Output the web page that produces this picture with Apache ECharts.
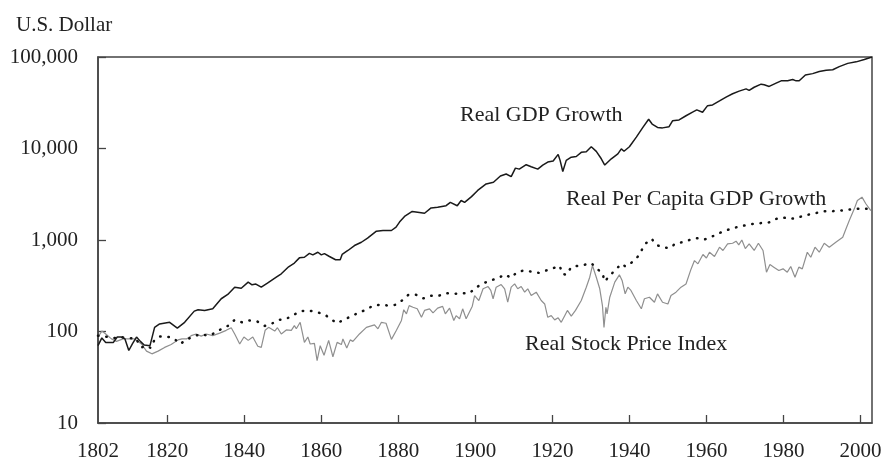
<!DOCTYPE html>
<html>
<head>
<meta charset="utf-8">
<script src="https://cdn.jsdelivr.net/npm/echarts@6/dist/echarts.min.js"></script>
<style>
  html, body { margin: 0; padding: 0; background: #fff; }
  #chart { width: 883px; height: 461px; }
</style>
</head>
<body>
<div id="chart"></div>
<script>
// real GDP (black solid line)
var gdpYears = [1802, 1803, 1804, 1806, 1807, 1808, 1809, 1810, 1811, 1812, 1813, 1814, 1815.5, 1816.7, 1818,
  1820.6, 1822.6, 1824.5, 1827, 1828, 1829.7, 1831.8, 1834, 1835.7, 1837.5, 1839.2, 1841, 1842, 1843, 1844.4,
  1846, 1848.3, 1849.6, 1851.5, 1853, 1854.3, 1855.6, 1856.9, 1857.8, 1859.1, 1860, 1860.8, 1862.1, 1863.7,
  1864.9, 1865.4, 1866.9, 1868.6, 1870.4, 1872, 1874.3, 1876, 1878.2, 1879.4, 1880.3, 1881.6, 1883.6, 1885,
  1886.8, 1888.5, 1890.2, 1892.4, 1893.5, 1895.3, 1896.3, 1897.2, 1899, 1900.6, 1902.8, 1904.7, 1906.5, 1908,
  1909.3, 1910.4, 1911.4, 1913.2, 1914.5, 1916.2, 1917.5, 1918.8, 1920.2, 1921.5, 1922, 1922.7, 1923.6, 1924.9,
  1926.2, 1927.5, 1928.8, 1930.1, 1931.4, 1932.7, 1933.6, 1935.3, 1937, 1937.9, 1938.6, 1940, 1941.8, 1943.5,
  1945, 1945.9, 1947.3, 1948.6, 1950.3, 1951.2, 1952.9, 1954.7, 1956.4, 1957.5, 1959, 1960.3, 1961.6, 1963.4,
  1965.1, 1966.8, 1968.5, 1970.3, 1971.1, 1972.4, 1974.2, 1975, 1976.3, 1978.1, 1979.4, 1981.1, 1982.4, 1983.3,
  1984.1, 1985.7, 1987.6, 1989.3, 1991.1, 1992.8, 1994.5, 1996.7, 1998.9, 2001, 2003];
var gdpValues = [70, 85, 76, 76, 87, 87, 83, 62, 74, 87, 78, 71, 70, 111, 121,
  126, 109, 126, 167, 173, 170, 177, 228, 254, 305, 297, 346, 324, 330, 305,
  337, 392, 427, 510, 560, 638, 648, 715, 688, 735, 688, 710, 660, 608,
  608, 695, 768, 870, 945, 1050, 1250, 1270, 1270, 1380, 1570, 1810, 2050, 2010,
  1960, 2240, 2280, 2370, 2580, 2370, 2700, 2580, 2980, 3480, 4100, 4280, 5000, 5260,
  4930, 6100, 5950, 6650, 6320, 5950, 6580, 7110, 7300, 8620, 7420, 5600, 7420, 8040,
  8170, 9080, 9220, 10450, 9300, 7720, 6600, 7720, 8730, 9900, 9330, 10450, 13300, 17000,
  20900, 18500, 17000, 16800, 17300, 20100, 20500, 22800, 25000, 26400, 24900, 29400, 29900, 33100,
  36500, 39700, 42400, 44800, 43100, 46700, 50500, 49700, 47700, 51800, 54900, 54900, 56700, 54900,
  54900, 63700, 65800, 69300, 71800, 72500, 78400, 85200, 88500, 93700, 100000];

// real per capita GDP (dotted line)
var pcYears = [1802, 1804, 1806.3, 1808, 1810, 1811.7, 1813.3, 1814.6, 1815.7, 1816.6, 1817.9, 1819.8, 1821.6,
  1823.3, 1825, 1826.8, 1828.7, 1830.8, 1832.7, 1834.4, 1835.9, 1837.5, 1839.4, 1841.2, 1843.3, 1845.3, 1847,
  1848.9, 1850.7, 1852.8, 1854.6, 1856.7, 1858.7, 1860.7, 1862.4, 1864, 1865.8, 1867.8, 1869.7, 1871.7, 1873.4,
  1875.3, 1877.5, 1879.4, 1881.2, 1882.6, 1884.6, 1886.5, 1888.5, 1890.5, 1892.4, 1894.4, 1896.5, 1898.5, 1900,
  1901.8, 1903.7, 1905.8, 1907.6, 1909.3, 1910.8, 1912.6, 1914.5, 1916.5, 1918.4, 1920.2, 1921.9, 1922.6, 1923.6,
  1924.9, 1926.6, 1928.3, 1930.1, 1931.4, 1933, 1933.6, 1934.9, 1936.4, 1937.9, 1939, 1940.7, 1942.2, 1943,
  1944.3, 1945.8, 1946.9, 1948.6, 1950.4, 1952.1, 1953.8, 1955.6, 1957.3, 1959.4, 1961.1, 1963.1, 1965.1, 1966.8,
  1969, 1970.7, 1972.5, 1974.2, 1976.3, 1978.1, 1979.8, 1981.5, 1983.3, 1985.4, 1987.2, 1988.9, 1990.6, 1992.4,
  1994.4, 1996.3, 1998.4, 2000.3, 2002.3];
var pcValues = [90, 88, 85, 87, 84, 85, 67, 70, 66, 80, 88, 88, 85,
  73, 81, 89, 93, 90, 98, 109, 116, 134, 126, 132, 129, 115, 121,
  134, 136, 152, 167, 170, 163, 155, 138, 123, 134, 147, 161, 173, 192,
  196, 192, 196, 222, 252, 252, 230, 246, 246, 262, 258, 262, 262, 300,
  331, 361, 380, 420, 386, 445, 464, 452, 437, 464, 492, 522, 427, 416,
  505, 522, 536, 558, 492, 433, 352, 409, 472, 549, 513, 572, 659, 754,
  922, 1030, 886, 835, 815, 922, 946, 1000, 1050, 1010, 1070, 1180, 1270, 1350,
  1410, 1470, 1510, 1530, 1560, 1700, 1770, 1700, 1730, 1850, 1920, 1990, 2060, 2060,
  2090, 2120, 2190, 2190, 2190];

// real stock price index (grey line)
var stockYears = [1802, 1803, 1804, 1805.5, 1806.8, 1808.5, 1810.2, 1811.5, 1813.3, 1814.6, 1816, 1817.6, 1819.3,
  1821, 1822.8, 1823.8, 1825, 1826.2, 1827.5, 1828.8, 1830.1, 1831.8, 1833.6, 1835.3, 1836.6, 1837.5, 1838.8,
  1839.9, 1841, 1842.2, 1843.5, 1844.4, 1845.4, 1846.3, 1846.8, 1847.9, 1848.6, 1849.6, 1850.9, 1852.2, 1853,
  1853.5, 1854.5, 1855.6, 1856.5, 1857.1, 1858.2, 1858.9, 1859.7, 1860.7, 1861.9, 1863, 1864.1, 1865.2, 1865.6,
  1866.6, 1867.5, 1868.2, 1869.9, 1871.7, 1873.8, 1874.7, 1875.6, 1876.8, 1877.3, 1878.2, 1879.5, 1880.8, 1881.4,
  1882.1, 1882.8, 1883.8, 1884.9, 1886, 1886.8, 1888.1, 1889, 1890.2, 1891.5, 1892.2, 1893.3, 1894.4, 1895,
  1895.9, 1896.7, 1897.6, 1899.2, 1899.8, 1900.9, 1902, 1903.3, 1904, 1904.6, 1905.4, 1906.7, 1907.6, 1908.4,
  1909.3, 1910.2, 1911, 1911.9, 1912.8, 1913.6, 1914.5, 1915.8, 1917.1, 1918, 1918.8, 1919.7, 1920.6, 1921.5,
  1922.3, 1923.2, 1923.9, 1924.9, 1926, 1927.5, 1928.8, 1929.7, 1930.4, 1931.4, 1932.3, 1933, 1933.4, 1933.9,
  1934.2, 1934.9, 1936.2, 1937.4, 1938.1, 1938.9, 1939.6, 1940.4, 1941.8, 1943.1, 1943.9, 1945.2, 1946.5, 1947.3,
  1948.6, 1950, 1950.8, 1952.1, 1953.4, 1954.7, 1956, 1956.9, 1957.8, 1959.1, 1960, 1960.8, 1962.1, 1963.4,
  1964.3, 1965.5, 1966.8, 1967.7, 1968.4, 1969.2, 1970.1, 1971.1, 1972.4, 1973.5, 1974.7, 1975.6, 1976.5, 1977.5,
  1978.8, 1979.9, 1981, 1981.9, 1983, 1984, 1984.9, 1986.2, 1987.1, 1988.2, 1989.3, 1990.6, 1991.9, 1993.6,
  1995.4, 1996.2, 1997.1, 1998.4, 1999.2, 2000.4, 2001.4, 2002.7];
var stockValues = [87, 101, 94, 83, 78, 83, 83, 83, 73, 61, 57, 61, 67,
  72, 81, 83, 83, 90, 94, 89, 94, 90, 96, 103, 110, 94, 73,
  87, 80, 87, 69, 67, 103, 111, 108, 101, 110, 94, 104, 103, 116,
  107, 126, 76, 87, 73, 74, 48, 70, 55, 80, 53, 76, 72, 83,
  66, 81, 78, 94, 111, 118, 107, 126, 123, 126, 82, 103, 132, 173,
  156, 192, 184, 177, 143, 170, 177, 160, 180, 188, 156, 180, 132, 149,
  138, 177, 138, 189, 247, 218, 293, 310, 281, 228, 305, 326, 293, 209,
  305, 331, 293, 310, 269, 293, 247, 269, 218, 200, 143, 149, 134, 141,
  126, 149, 170, 147, 170, 218, 305, 392, 526, 392, 293, 192, 111, 184,
  156, 237, 346, 416, 361, 258, 305, 281, 218, 177, 228, 237, 209, 258,
  209, 200, 247, 269, 305, 331, 480, 596, 549, 695, 636, 735, 660, 835,
  768, 905, 922, 970, 886, 1000, 806, 905, 768, 922, 768, 445, 539, 505,
  464, 484, 445, 513, 392, 505, 484, 735, 648, 835, 735, 922, 835, 946,
  1070, 1310, 1630, 2190, 2700, 2940, 2490, 2090];

var xLabelValues = [1802, 1820, 1840, 1860, 1880, 1900, 1920, 1940, 1960, 1980, 2000];
var xTickValues = [1820, 1840, 1860, 1880, 1900, 1920, 1940, 1960, 1980, 2000];

function pairs(xs, ys) {
  var out = [];
  for (var i = 0; i < xs.length; i++) out.push([xs[i], ys[i]]);
  return out;
}

var FONT = '"Liberation Serif", "DejaVu Serif", serif';
var myChart = echarts.init(document.getElementById('chart'));

var option = {
  animation: false,
  backgroundColor: '#fff',
  title: {
    text: 'U.S. Dollar',
    left: 11,
    top: 10,
    textStyle: { fontFamily: FONT, fontWeight: 'normal', fontSize: 21, color: '#222' }
  },
  grid: {
    left: 98,
    top: 57,
    width: 774,
    height: 366,
    show: true,
    borderColor: '#444',
    borderWidth: 1.5,
    outerBoundsMode: 'none'
  },
  xAxis: {
    type: 'value',
    min: 1802,
    max: 2003,
    splitLine: { show: false },
    axisLine: { show: true, lineStyle: { color: '#444', width: 1.5 } },
    axisTick: { show: true, inside: true, length: 8, customValues: xTickValues,
      lineStyle: { color: '#444', width: 1.3 } },
    axisLabel: {
      customValues: xLabelValues,
      margin: 18,
      fontFamily: FONT,
      fontSize: 21,
      color: '#222',
      formatter: function (v) { return String(v); }
    }
  },
  yAxis: {
    type: 'log',
    logBase: 10,
    min: 10,
    max: 100000,
    splitLine: { show: false },
    axisLine: { show: true, lineStyle: { color: '#444', width: 1.5 } },
    axisTick: { show: true, inside: true, length: 8, lineStyle: { color: '#444', width: 1.3 } },
    axisLabel: {
      margin: 20,
      fontFamily: FONT,
      fontSize: 21,
      color: '#222',
      formatter: function (v) { return Math.round(v).toLocaleString('en-US'); }
    }
  },
  graphic: [
    { type: 'text', left: 460, top: 104, style: { text: 'Real GDP Growth', font: '22px ' + FONT, fill: '#222' } },
    { type: 'text', left: 566, top: 188, style: { text: 'Real Per Capita GDP Growth', font: '22px ' + FONT, fill: '#222' } },
    { type: 'text', left: 525, top: 333, style: { text: 'Real Stock Price Index', font: '22px ' + FONT, fill: '#222' } }
  ],
  series: [
    {
      name: 'Real Stock Price Index',
      type: 'line',
      data: pairs(stockYears, stockValues),
      showSymbol: false,
      lineStyle: { color: '#8f8f8f', width: 1.2 },
      z: 2
    },
    {
      name: 'Real Per Capita GDP Growth',
      type: 'line',
      data: pairs(pcYears, pcValues),
      showSymbol: false,
      lineStyle: { color: '#111', width: 2.5, type: [0.5, 7.8], cap: 'round' },
      z: 3
    },
    {
      name: 'Real GDP Growth',
      type: 'line',
      data: pairs(gdpYears, gdpValues),
      showSymbol: false,
      lineStyle: { color: '#1a1a1a', width: 1.5 },
      z: 4
    }
  ]
};

myChart.setOption(option);
</script>
</body>
</html>
